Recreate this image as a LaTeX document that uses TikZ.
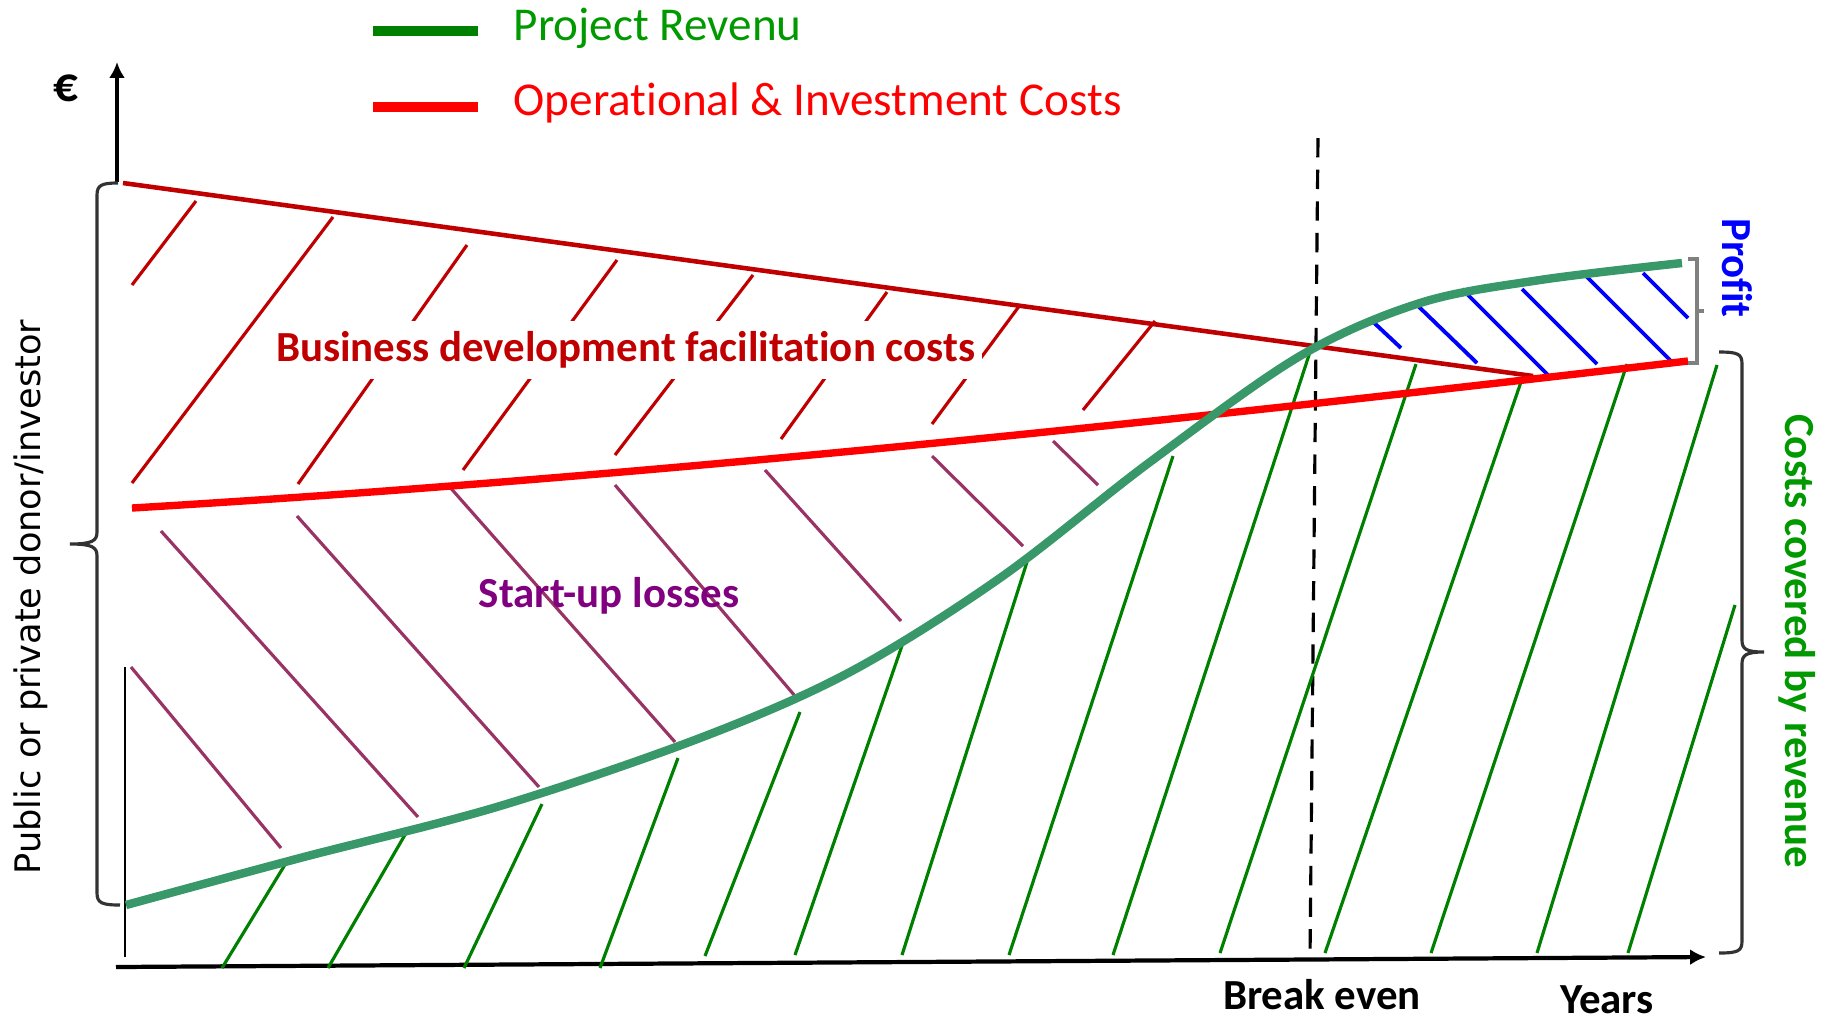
\documentclass[tikz,border=0pt]{standalone}
\usepackage{fontspec}
\setmainfont{Carlito}[Ligatures={NoCommon,NoContextual}, Contextuals={NoAlternate}]
\newfontfamily\dejavu{DejaVu Sans}
\usetikzlibrary{arrows.meta,positioning}

\definecolor{bizred}{RGB}{192,0,0}
\definecolor{costred}{RGB}{255,0,0}
\definecolor{revline}{RGB}{56,152,105}
\definecolor{hatchgreen}{RGB}{0,128,0}
\definecolor{textgreen}{RGB}{0,153,0}
\definecolor{losspurple}{RGB}{153,51,102}
\definecolor{losstext}{RGB}{128,0,128}

\begin{document}
\begin{tikzpicture}[
    x=0.01cm, y=-0.01cm,
    legtext/.style={anchor=base west, inner sep=0pt, font=\fontsize{13.4}{16}\selectfont},
    label/.style={inner sep=0pt, font=\fontsize{12.2}{14}\selectfont\bfseries},
    redhatch/.style={bizred, line width=0.9pt},
    purplehatch/.style={losspurple, line width=0.9pt},
    greenhatch/.style={hatchgreen, line width=0.9pt},
    bluehatch/.style={blue, line width=1.1pt},
    axis/.style={black, line width=1pt, -{Latex[length=4.5pt,width=4.5pt]}},
    bracket/.style={black!80, line width=0.9pt}
]
\useasboundingbox (0,0) rectangle (1829,1020);

% LEGENDA
\draw[hatchgreen, line width=2.6pt] (373,31) -- (478,31);
\node[legtext, text=textgreen] (revlegend) at (513,40.7) {Project Revenu};
\draw[costred, line width=2.6pt] (373,107) -- (478,107);
\node[legtext, text=costred] (costlegend) at (513,115) {Operational \& Investment Costs};

% ASSI
\draw[axis] (117,182) -- (117,62);
\node[label, anchor=base, font=\fontsize{14}{16}\selectfont\bfseries] (euro) at (66,101.7) {€};
\draw[black, line width=0.8pt] (125,667) -- (125,957);
\draw[axis, line width=1.2pt] (116,967) -- (1706,957);
\draw[black, line width=0.9pt, dash pattern=on 5.5pt off 3.5pt] (1318,138) -- (1310,959);

% TRATTEGGIO COSTI DI SVILUPPO
\foreach \xa/\ya/\xb/\yb in {132/285/196/201, 132/483/333/217, 298/484/467/245,
    463/470/617/260, 615/455/753/275, 781/439/887/292, 932/424/1020/305,
    1083/410/1155/321} {
    \draw[redhatch] (\xa,\ya) -- (\xb,\yb);
}

% TRATTEGGIO PERDITE
\foreach \xa/\ya/\xb/\yb in {131/667/281/848, 161/531/418/817, 297/516/539/787,
    448/485/675/742, 615/485/795/696, 765/470/901/621, 932/456/1023/546,
    1053/441/1098/485} {
    \draw[purplehatch] (\xa,\ya) -- (\xb,\yb);
}

% TRATTEGGIO RICAVI
\foreach \xa/\ya/\xb/\yb in {286/863/222/968, 406/833/328/968, 542/804/464/968,
    678/758/600/968, 800/712/705/956, 905/637/795/955, 1027/562/902/955,
    1173/456/1009/955, 1310/352/1113/955, 1416/364/1220/953, 1522/379/1325/953,
    1627/364/1431/953, 1717/365/1537/953, 1735/605/1628/953} {
    \draw[greenhatch] (\xa,\ya) -- (\xb,\yb);
}

% TRATTEGGIO PROFITTO
\foreach \xa/\ya/\xb/\yb in {1370/319/1401/348, 1416/304/1477/363, 1462/289/1552/379,
    1522/289/1597/364, 1583/273/1673/363, 1643/273/1688/318} {
    \draw[bluehatch] (\xa,\ya) -- (\xb,\yb);
}

% CURVE
\node[label, anchor=base, text=bizred, fill=white, inner xsep=2pt, inner ysep=3pt]
    (bizlabel) at (625.5,361.5) {Business development facilitation costs};
\draw[bizred, line width=1.3pt] (123,183) -- (1533,376);
\draw[costred, line width=2.1pt] (132,508) .. controls (600,480) and (1100,430) .. (1688,361);
\draw[revline, line width=2.4pt] plot[smooth, tension=0.55] coordinates {
    (126,905) (300,858) (500,806) (700,738) (850,672) (1000,578) (1150,462)
    (1300,356) (1420,303) (1540,280) (1682,263)};

% PARENTESI
\draw[bracket] (118,183) .. controls (102,183) and (97,185) .. (97,195) -- (97,532)
    .. controls (97,541) and (92,544) .. (70,544)
    .. controls (92,544) and (97,547) .. (97,556) -- (97,893)
    .. controls (97,903) and (102,905) .. (120,905);
\draw[gray, line width=0.9pt] (1688,259) -| (1697,363) -- (1688,363)
    (1697,311) -- (1704,311);
\draw[bracket] (1719,352) .. controls (1738,352) and (1742,354) .. (1742,364) -- (1742,640)
    .. controls (1742,649) and (1746,652) .. (1764,652)
    .. controls (1746,652) and (1742,655) .. (1742,664) -- (1742,941)
    .. controls (1742,951) and (1738,953) .. (1719,953);

% ETICHETTE
\node[label, anchor=base, text=losstext] (losslabel) at (609,607) {Start-up losses};
\node[label, anchor=base] (breakeven) at (1322,1009) {Break even};
\node[label, anchor=base] (years) at (1607,1013) {Years};
\node[label, rotate=-90, text=blue] (profit) at (1737,268) {Profit};
\node[label, rotate=-90, text=textgreen] (covered) at (1797,641) {Costs covered by revenue};
\node[rotate=90, inner sep=0pt, font=\dejavu\fontsize{10}{12}\selectfont] (donor)
    at (31,597) {Public or private donor/investor};

\end{tikzpicture}
\end{document}
